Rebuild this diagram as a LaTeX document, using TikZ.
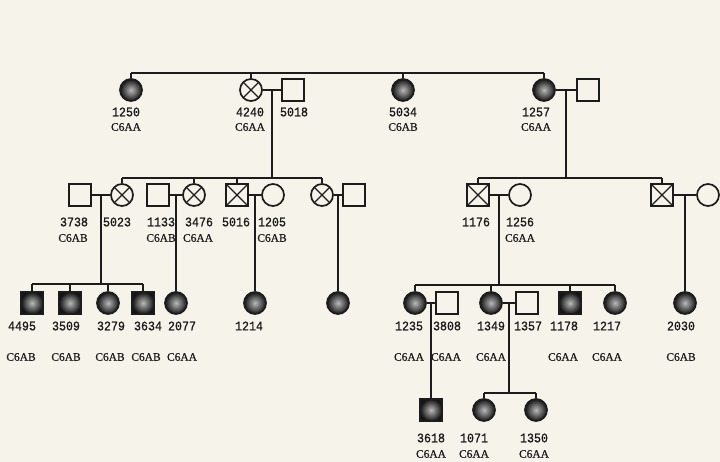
\documentclass[tikz,border=0pt]{standalone}
\usepackage{fontspec}
\setmainfont{Liberation Serif}
\setmonofont{Liberation Mono}
\newfontfamily\numfont{Liberation Mono}[FakeStretch=0.9, FakeBold=1.2]
\newfontfamily\genofont{Liberation Serif}[FakeBold=0.8]
\usepackage{tikz}
\usetikzlibrary{positioning,calc}
\definecolor{paper}{RGB}{246,243,235}
\definecolor{ink}{RGB}{28,28,28}
\tikzset{
  person/.style ={draw=ink, line width=1.7bp, inner sep=0pt, minimum size=22bp},
  male/.style   ={person, rectangle},
  female/.style ={person, circle},
  crossed/.style={path picture={\draw[ink, line width=1.3bp]
                   (path picture bounding box.north west) -- (path picture bounding box.south east)
                   (path picture bounding box.north east) -- (path picture bounding box.south west);}},
  xm/.style     ={male, crossed},
  xf/.style     ={female, crossed},
  affm/.style   ={male, shading=radial, inner color=gray!55, outer color=black!92},
  afff/.style   ={female, shading=radial, inner color=gray!55, outer color=black!92},
  line/.style   ={draw=ink, line width=1.6bp},
  num/.style    ={font=\numfont\fontsize{13}{13}\selectfont, text=ink, inner sep=0pt},
  geno/.style   ={font=\genofont\fontsize{11.5}{12}\selectfont, text=ink, inner sep=0pt},
}
\begin{document}
\begin{tikzpicture}[x=1bp, y=-1bp]
    \fill[paper] (0,0) rectangle (720,462);

    % generation I
    \foreach \id/\sty/\x in {1250/afff/131, 4240/xf/251, 5018/male/293,
                             5034/afff/403, 1257/afff/544, 1257h/male/588}
        \node[\sty] (i\id) at (\x,90) {};

    % generation II
    \foreach \id/\sty/\x in {3738/male/80, 5023/xf/122, 1133/male/158, 3476/xf/194,
                             5016/xm/237, 1205/female/273, IIw/xf/322, IIh/male/354,
                             1176/xm/478, 1256/female/520, IIm/xm/662, IIf/female/708}
        \node[\sty] (i\id) at (\x,195) {};

    % generation III
    \foreach \id/\sty/\x in {4495/affm/32, 3509/affm/70, 3279/afff/108, 3634/affm/143,
                             2077/afff/176, 1214/afff/255, IIIa/afff/338,
                             1235/afff/415, 3808/male/447, 1349/afff/491, 1357/male/527,
                             1178/affm/570, 1217/afff/615, 2030/afff/685}
        \node[\sty] (i\id) at (\x,303) {};

    % generation IV
    \foreach \id/\sty/\x in {3618/affm/431, 1071/afff/484, 1350/afff/536}
        \node[\sty] (i\id) at (\x,410) {};

    % marriages
    \foreach \a/\b in {4240/5018, 1257/1257h, 3738/5023, 1133/3476, 5016/1205,
                       IIw/IIh, 1176/1256, IIm/IIf, 1235/3808, 1349/1357}
    {
        \draw[line] (i\a) -- (i\b);
        \coordinate (m\a) at ($(i\a)!0.5!(i\b)$);
    }

    % sibship lines
    \coordinate (top) at (0,73);
    \coordinate (sL) at (0,178);
    \coordinate (sR) at (0,178);
    \coordinate (s3738) at (0,284);
    \coordinate (s1176) at (0,285);
    \coordinate (s1349) at (0,393);

    \draw[line] (i1250.north |- top) -- (i1257.north |- top);
    \foreach \c in {i1250,i4240,i5034,i1257}
        \draw[line] (\c.north) -- (\c.north |- top);

    \draw[line] (m4240) -- (m4240 |- sL);
    \draw[line] (i5023.north |- sL) -- (iIIw.north |- sL);
    \foreach \c in {i5023,i3476,i5016,iIIw}
        \draw[line] (\c.north) -- (\c.north |- sL);

    \draw[line] (m1257) -- (m1257 |- sR);
    \draw[line] (i1176.north |- sR) -- (iIIm.north |- sR);
    \foreach \c in {i1176,iIIm}
        \draw[line] (\c.north) -- (\c.north |- sR);

    \draw[line] (m3738) -- (m3738 |- s3738);
    \draw[line] (i4495.north |- s3738) -- (i3634.north |- s3738);
    \foreach \c in {i4495,i3509,i3279,i3634}
        \draw[line] (\c.north) -- (\c.north |- s3738);

    \draw[line] (m1176) -- (m1176 |- s1176);
    \draw[line] (i1235.north |- s1176) -- (i1217.north |- s1176);
    \foreach \c in {i1235,i1349,i1178,i1217}
        \draw[line] (\c.north) -- (\c.north |- s1176);

    \draw[line] (m1349) -- (m1349 |- s1349);
    \draw[line] (i1071.north |- s1349) -- (i1350.north |- s1349);
    \foreach \c in {i1071,i1350}
        \draw[line] (\c.north) -- (\c.north |- s1349);

    % single children
    \foreach \m/\c in {m1133/i2077, m5016/i1214, mIIw/iIIIa, mIIm/i2030, m1235/i3618}
        \draw[line] (\m) -- (\m |- \c.north);

    % numbers
    \foreach \id/\x/\y in {1250/126/112, 4240/250/112, 5018/294/112, 5034/403/112, 1257/536/112,
                           3738/74/222, 5023/117/222, 1133/161/222, 3476/199/222, 5016/236/222,
                           1205/272/222, 1176/476/222, 1256/520/222,
                           4495/22/326, 3509/66/326, 3279/111/326, 3634/148/326, 2077/182/326,
                           1214/249/326, 1235/409/326, 3808/447/326, 1349/491/326, 1357/528/326,
                           1178/564/326, 1217/607/326, 2030/681/326,
                           3618/431/438, 1071/474/438, 1350/534/438}
        \node[num] (n\id) at (\x,\y) {\id};

    % genotypes
    \foreach \id/\g/\x/\y in {1250/C6AA/126/127, 4240/C6AA/250/127, 5034/C6AB/403/127, 1257/C6AA/536/127,
                              3738/C6AB/73/238, 1133/C6AB/161/238, 3476/C6AA/198/238,
                              1205/C6AB/272/238, 1256/C6AA/520/238,
                              4495/C6AB/21/357, 3509/C6AB/66/357, 3279/C6AB/110/357, 3634/C6AB/146/357,
                              2077/C6AA/182/357, 1235/C6AA/409/357, 3808/C6AA/446/357, 1349/C6AA/491/357,
                              1178/C6AA/563/357, 1217/C6AA/607/357, 2030/C6AB/681/357,
                              3618/C6AA/431/454, 1071/C6AA/474/454, 1350/C6AA/534/454}
        \node[geno] (g\id) at (\x,\y) {\g};
\end{tikzpicture}
\end{document}
